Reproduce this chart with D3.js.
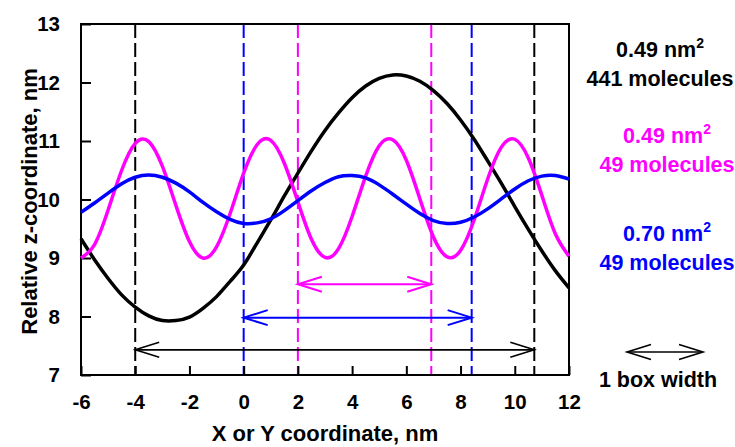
<!DOCTYPE html>
<html>
<head>
<meta charset="utf-8">
<script src="https://cdn.jsdelivr.net/npm/d3@7"></script>
<style>
    body { margin: 0; background: #fff; }
    svg { display: block; font-family: "Liberation Sans", Arial, sans-serif; font-weight: bold; }
</style>
</head>
<body>
<svg width="735" height="447"></svg>
<script>
// x positions of the sampled profile points, nm
var xPos = [-6, -5.5, -5, -4.5, -4, -3.5, -3, -2.5, -2, -1.5, -1, -0.5, 0, 0.5, 1, 1.5, 2, 2.5, 3, 3.5,
    4, 4.5, 5, 5.5, 6, 6.5, 7, 7.5, 8, 8.5, 9, 9.5, 10, 10.5, 11, 11.5, 12];

// relative z, nm
var zBlack = [9.33, 8.97, 8.65, 8.37, 8.16, 8.01, 7.93, 7.93, 7.99, 8.14, 8.34, 8.60, 8.88, 9.26, 9.65, 10.06, 10.45, 10.83, 11.18, 11.48,
    11.74, 11.94, 12.07, 12.13, 12.11, 12.02, 11.86, 11.64, 11.36, 11.03, 10.66, 10.28, 9.88, 9.49, 9.12, 8.78, 8.49];
var zMagenta = [9.00, 9.23, 9.82, 10.50, 10.96, 10.99, 10.57, 9.90, 9.28, 9.00, 9.19, 9.76, 10.45, 10.94, 11.01, 10.62, 9.96, 9.32, 9.01, 9.16,
    9.71, 10.40, 10.92, 11.02, 10.67, 10.01, 9.36, 9.02, 9.13, 9.65, 10.35, 10.89, 11.03, 10.71, 10.07, 9.41, 9.03];
var zBlue = [9.78, 9.94, 10.11, 10.27, 10.38, 10.42, 10.38, 10.28, 10.13, 9.95, 9.79, 9.66, 9.59, 9.60, 9.67, 9.81, 9.98, 10.15, 10.29, 10.39,
    10.41, 10.37, 10.25, 10.09, 9.92, 9.76, 9.64, 9.59, 9.61, 9.70, 9.84, 10.01, 10.18, 10.32, 10.40, 10.41, 10.35];

// box edges (dashed lines) and the height of each box-width arrow
var boxNames = ["441", "49a", "49b"];
var boxColors = ["#000000", "#ff00ff", "#0000ff"];
var boxStart = [-4, 2, 0];
var boxEnd = [10.72, 6.92, 8.41];
var arrowZ = [7.43, 8.55, 7.98];

var xTicks = [-6, -4, -2, 0, 2, 4, 6, 8, 10, 12];
var yTicks = [7, 8, 9, 10, 11, 12, 13];

var legendArea = ["0.49 nm", "0.49 nm", "0.70 nm"];
var legendCount = ["441 molecules", "49 molecules", "49 molecules"];

var svg = d3.select("svg"),
    margin = {top: 24, right: 166, bottom: 72, left: 81},
    width = +svg.attr("width") - margin.left - margin.right,
    height = +svg.attr("height") - margin.top - margin.bottom;

var x = d3.scaleLinear().domain([-6, 12]).range([0, width]);
var y = d3.scaleLinear().domain([7, 13]).range([height, 0]);

var g = svg.append("g").attr("transform", "translate(" + margin.left + "," + margin.top + ")");

// dashed box boundaries
boxNames.forEach(function(name, i) {
    [boxStart[i], boxEnd[i]].forEach(function(v) {
        g.append("line")
            .attr("x1", x(v)).attr("x2", x(v))
            .attr("y1", 0).attr("y2", height)
            .style("stroke", boxColors[i])
            .style("stroke-width", 2)
            .style("stroke-dasharray", "14,5");
    });
});

// axes (ticks inside, labels outside)
var xAxis = g.append("g")
    .attr("transform", "translate(0," + height + ")")
    .call(d3.axisBottom(x).tickValues(xTicks).tickSize(-9).tickPadding(19).tickFormat(d3.format("d")));
var yAxis = g.append("g")
    .call(d3.axisLeft(y).tickValues(yTicks).tickSize(-10).tickPadding(21).tickFormat(d3.format("d")));

[xAxis, yAxis].forEach(function(a) {
    a.select(".domain").remove();
    a.selectAll("line").style("stroke", "#000").style("stroke-width", 2);
    a.selectAll("text")
        .style("font-family", "'Liberation Sans', Arial, sans-serif")
        .style("font-weight", "bold")
        .style("font-size", "20.5px")
        .style("fill", "#000")
        .text(function(d) { return d < 0 ? "-" + Math.abs(d) : d; });
});

// frame
g.append("rect")
    .attr("width", width).attr("height", height)
    .style("fill", "none").style("stroke", "#000").style("stroke-width", 2);

// profiles
var line = d3.line()
    .x(function(d) { return x(d[0]); })
    .y(function(d) { return y(d[1]); })
    .curve(d3.curveNatural);

[[zBlack, "#000000"], [zMagenta, "#ff00ff"], [zBlue, "#0000ff"]].forEach(function(s) {
    g.append("path")
        .datum(xPos.map(function(v, i) { return [v, s[0][i]]; }))
        .attr("d", line)
        .style("fill", "none")
        .style("stroke", s[1])
        .style("stroke-width", 3.5)
        .style("stroke-linejoin", "round");
});

// double arrows
function doubleArrow(sel, x1, x2, yy, color, w) {
    var hl = 24, hw = 7.5;
    sel.append("line").attr("x1", x1).attr("x2", x2).attr("y1", yy).attr("y2", yy)
        .style("stroke", color).style("stroke-width", w);
    sel.append("path")
        .attr("d", "M" + (x1 + hl) + "," + (yy - hw) + "L" + x1 + "," + yy + "L" + (x1 + hl) + "," + (yy + hw) +
            "M" + (x2 - hl) + "," + (yy - hw) + "L" + x2 + "," + yy + "L" + (x2 - hl) + "," + (yy + hw))
        .style("fill", "none").style("stroke", color).style("stroke-width", w);
}

boxNames.forEach(function(name, i) {
    doubleArrow(g, x(boxStart[i]), x(boxEnd[i]), y(arrowZ[i]), boxColors[i], i == 0 ? 1.6 : 2);
});

// axis titles
svg.append("text")
    .attr("x", margin.left + width / 2).attr("y", 441)
    .attr("text-anchor", "middle")
    .style("font-size", "22px")
    .text("X or Y coordinate, nm");

svg.append("text")
    .attr("transform", "translate(37," + (margin.top + height / 2 + 2) + ") rotate(-90)")
    .attr("text-anchor", "middle")
    .style("font-size", "22px")
    .text("Relative z-coordinate, nm");

// legend
var legX = [660, 667, 667];
var legY = [57, 143, 241];
legendArea.forEach(function(t, i) {
    var tx = svg.append("text")
        .attr("x", legX[i]).attr("y", legY[i])
        .attr("text-anchor", "middle")
        .style("font-size", "21.5px")
        .style("fill", boxColors[i])
        .text(t);
    tx.append("tspan").attr("dy", -9).style("font-size", "14px").text("2");
    svg.append("text")
        .attr("x", legX[i]).attr("y", legY[i] + 29)
        .attr("text-anchor", "middle")
        .style("font-size", "21.5px")
        .style("fill", boxColors[i])
        .text(legendCount[i]);
});

doubleArrow(svg, 627, 703, 352, "#000", 1.6);
svg.append("text")
    .attr("x", 658).attr("y", 387)
    .attr("text-anchor", "middle")
    .style("font-size", "21.5px")
    .text("1 box width");
</script>
</body>
</html>
